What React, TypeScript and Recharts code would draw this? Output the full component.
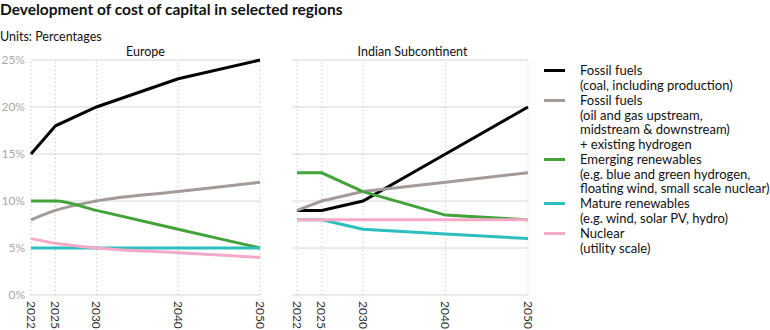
import { CartesianGrid, Line, LineChart, ReferenceLine, XAxis, YAxis } from "recharts";

const years = [2022, 2025, 2030, 2040, 2050];
const yTicks = [0, 5, 10, 15, 20, 25];

// Europe
const euCoal = [15, 18, 20, 23, 25];
const euOilGas = [8, 9, 10, 11, 12];
const euEmerging = [10, 10, 9, 7, 5];
const euMature = [5, 5, 5, 5, 5];
const euNuclear = [6, 5.5, 5, 4.5, 4];

// Indian Subcontinent
const inCoal = [9, 9, 10, 15, 20];
const inOilGas = [9, 10, 11, 12, 13];
const inEmerging = [13, 13, 11, 8.5, 8];
const inMature = [8, 8, 7, 6.5, 6];
const inNuclear = [8, 8, 8, 8, 8];

const series = [
  { key: "coal", color: "#000000", label: ["Fossil fuels", "(coal, including production)"] },
  {
    key: "oilgas",
    color: "#a29b97",
    label: ["Fossil fuels", "(oil and gas upstream,", "midstream & downstream)", "+ existing hydrogen"],
  },
  {
    key: "emerging",
    color: "#43a23a",
    label: ["Emerging renewables", "(e.g. blue and green hydrogen,", "floating wind, small scale nuclear)"],
  },
  { key: "mature", color: "#2bbfbf", label: ["Mature renewables", "(e.g. wind, solar PV, hydro)"] },
  { key: "nuclear", color: "#f5a9c8", label: ["Nuclear", "(utility scale)"] },
];

const build = (a: number[], b: number[], c: number[], d: number[], e: number[]) =>
  years.map((year, i) => ({ year, coal: a[i], oilgas: b[i], emerging: c[i], mature: d[i], nuclear: e[i] }));

const europeData = build(euCoal, euOilGas, euEmerging, euMature, euNuclear);
const indiaData = build(inCoal, inOilGas, inEmerging, inMature, inNuclear);

const FONT = "Lato, 'Open Sans', sans-serif";

const YearTick = (props: any) => {
  const { x, y, payload } = props;
  return (
    <text
      x={x}
      y={y}
      transform={`rotate(90, ${x}, ${y})`}
      textAnchor="start"
      dominantBaseline="central"
      fill="#333"
      fontSize={12}
      fontFamily={FONT}
    >
      {payload.value}
    </text>
  );
};

function Panel({
  data,
  width,
  showY,
  curve,
  padLeft,
  marginLeft,
}: {
  data: any[];
  width: number;
  showY: boolean;
  curve: "monotone" | "linear";
  padLeft: number;
  marginLeft: number;
}) {
  return (
    <LineChart width={width} height={330} data={data} margin={{ top: 60, right: 10, bottom: 0, left: marginLeft }}>
      <CartesianGrid stroke="#d6d6d6" vertical={false} />
      {years.map((y) => (
        <ReferenceLine key={y} x={y} stroke="#bdbdbd" strokeDasharray="1 3" />
      ))}
      <XAxis
        dataKey="year"
        type="number"
        domain={[2022, 2050]}
        ticks={years}
        tickLine={false}
        axisLine={false}
        tick={<YearTick />}
        tickMargin={0}
        height={35}
        padding={{ left: padLeft, right: 0 }}
        interval={0}
      />
      <YAxis
        domain={[0, 25]}
        ticks={yTicks}
        hide={!showY}
        width={showY ? 31 : 0}
        tickLine={false}
        axisLine={false}
        tickFormatter={(v) => `${v}%`}
        tick={{ fill: "#a8a8a8", fontSize: 12, fontFamily: FONT }}
        tickMargin={0}
      />
      {series.map((s) => (
        <Line
          key={s.key}
          type={s.key === "coal" ? "linear" : curve}
          dataKey={s.key}
          stroke={s.color}
          strokeWidth={3}
          dot={false}
          isAnimationActive={false}
        />
      ))}
    </LineChart>
  );
}

export default function App() {
  const legendTop = [63, 93, 152, 196, 226];
  return (
    <div style={{ position: "absolute", left: 0, top: 0, width: 770, height: 330, background: "#fff", fontFamily: FONT, color: "#111" }}>
      <div style={{ position: "absolute", left: 0, top: 0, fontSize: 15.5, fontWeight: 700 }}>
        Development of cost of capital in selected regions
      </div>
      <div style={{ position: "absolute", left: 0, top: 29, fontSize: 12.5 }}>Units: Percentages</div>
      <div style={{ position: "absolute", left: 31, width: 229, top: 44, fontSize: 12.5, textAlign: "center" }}>Europe</div>
      <div style={{ position: "absolute", left: 297, width: 231, top: 44, fontSize: 12.5, textAlign: "center" }}>
        Indian Subcontinent
      </div>
      <div style={{ position: "absolute", left: 0, top: 0 }}>
        <Panel data={europeData} width={270} showY curve="monotone" padLeft={0} marginLeft={0} />
      </div>
      <div style={{ position: "absolute", left: 284, top: 0 }}>
        <Panel data={indiaData} width={254} showY={false} curve="linear" padLeft={5} marginLeft={8} />
      </div>
      {series.map((s, i) => (
        <div key={s.key} style={{ position: "absolute", left: 544, top: legendTop[i], fontSize: 13, lineHeight: "14.7px" }}>
          <div style={{ position: "absolute", left: 0, top: 6, width: 21, height: 3, background: s.color }} />
          <div style={{ marginLeft: 36, whiteSpace: "nowrap" }}>
            {s.label.map((l) => (
              <div key={l}>{l}</div>
            ))}
          </div>
        </div>
      ))}
    </div>
  );
}
